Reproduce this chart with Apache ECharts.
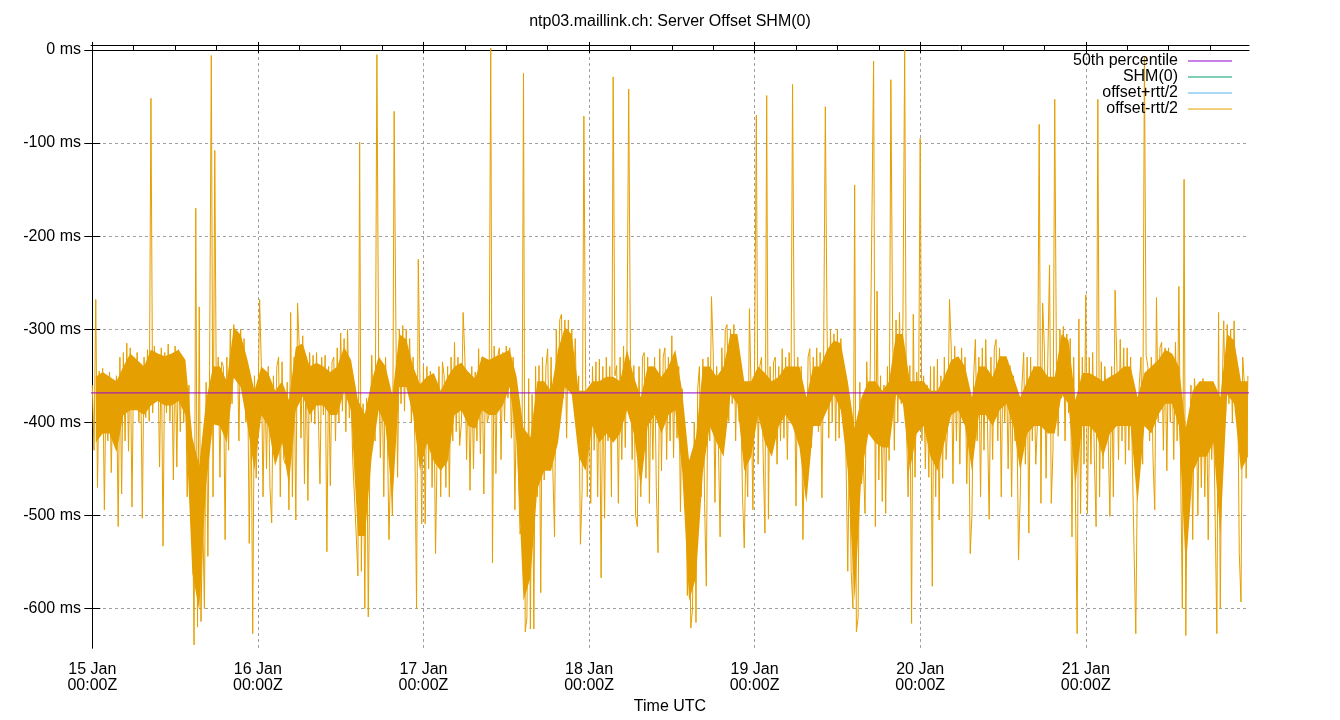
<!DOCTYPE html>
<html>
<head>
<meta charset="utf-8">
<script src="https://cdn.jsdelivr.net/npm/echarts@6.0.0/dist/echarts.min.js"></script>
<style>
html,body{margin:0;padding:0;background:#fff;}
#chart{width:1340px;height:720px;}
</style>
</head>
<body>
<div id="chart"></div>
<script>
// Time is in hours since 15 Jan 00:00Z; one sample every STEP hours
const STEP = 0.25;
const dayLabels = ['15 Jan\n00:00Z','16 Jan\n00:00Z','17 Jan\n00:00Z','18 Jan\n00:00Z','19 Jan\n00:00Z','20 Jan\n00:00Z','21 Jan\n00:00Z'];
const yTickValues = [-600,-500,-400,-300,-200,-100,0];
const X_MIN = -0.19, X_MAX = 167.66;
const Y_MIN = -642.4, Y_MAX = 5.3;
const median = -368.4;

// offset (ms), 15 Jan .. 21 Jan, 96 samples per day
const d15 = [
-360,-430,-268,-470, -345,-410,-342,-494, -350,-420,-346,-454, -355,-415,-350,-512,
-330,-477,-325,-420, -315,-431,-320,-491, -330,-380,-325,-400, -340,-503,-330,-395,
-322,-399,-52,-390, -318,-374,-330,-448, -320,-533,-325,-390, -316,-399,-330,-462,
-318,-448,-322,-410, -330,-400,-340,-480, -360,-498,-470,-639, -170,-620,-276,-614,
-500,-600,-357,-544, -340,-6,-480,-108, -400,-330,-459,-335, -340,-526,-330,-430,
-300,-380,-295,-350, -305,-420,-300,-360, -310,-400,-339,-530, -360,-627,-350,-460];
const d16 = [
-390,-268,-339,-480, -345,-450,-340,-470, -508,-350,-420,-340, -330,-480,-335,-440,
-445,-357,-494,-282, -480,-330,-505,-272, -320,-417,-307,-466, -330,-484,-325,-400,
-328,-402,-325,-390, -466,-330,-392,-328, -539,-340,-468,-335, -330,-420,-320,-400,
-304,-388,-310,-410, -300,-395,-367,-440, -480,-520,-565,-99, -560,-380,-600,-374,
-609,-430,-328,-400, -420,-5,-330,-438, -340,-480,-330,-400, -526,-445,-500,-66,
-296,-459,-300,-380, -296,-388,-300,-360, -310,-400,-330,-420, -600,-225,-360,-509];
const d17 = [
-339,-509,-340,-450, -345,-470,-360,-541, -420,-340,-480,-335, -350,-470,-340,-480,
-330,-420,-314,-410, -330,-425,-400,-282, -330,-440,-346,-473, -340,-450,-346,-420,
-321,-434,-330,-477, -340,-400,-392,2, -551,-318,-455,-330, -320,-440,-325,-399,
-318,-374,-320,-417, -330,-494,-367,-450, -520,-508,-25,-625, -610,-353,-622,-370,
-622,-340,-480,-339, -583,-330,-462,-340, -321,-430,-330,-450, -523,-300,-400,-290,
-284,-374,-290,-417, -290,-360,-300,-380, -310,-400,-350,-531, -473,-71,-350,-480];
const d18 = [
-374,-487,-340,-430, -335,-480,-332,-567, -340,-503,-330,-420, -340,-480,-29,-350,
-339,-487,-330,-440, -318,-427,-320,-42, -330,-440,-339,-500, -512,-340,-480,-330,
-325,-460,-330,-487, -340,-440,-330,-470, -540,-321,-452,-330, -320,-440,-330,-420,
-307,-438,-330,-417, -340,-496,-364,-459, -445,-586,-460,-621, -600,-400,-615,-364,
-340,-480,-332,-487, -576,-330,-420,-265, -325,-486,-340,-424, -523,-320,-400,-300,
-295,-399,-300,-380, -295,-420,-310,-399, -374,-480,-535,-420, -480,-278,-370,-494];
const d19 = [
-330,-70,-445,-340, -330,-440,-519,-49, -504,-340,-430,-335, -330,-445,-340,-420,
-321,-417,-330,-440, -325,-400,-37,-330, -490,-330,-417,-340, -526,-410,-480,-330,
-321,-427,-330,-400, -320,-410,-325,-481, -330,-61,-300,-417, -300,-400,-305,-420,
-300,-417,-310,-390, -346,-440,-560,-420, -560,-600,-145,-625, -610,-357,-466,-440,
-498,-335,-410,-350, -350,-12,-512,-259, -462,-350,-485,-360, -498,-340,-441,-32,
-300,-430,-290,-400, -282,-380,-290,0, -400,-480,-339,-616, -284,-459,-346,-400];
const d20 = [
-95,-420,-350,-450, -360,-459,-340,-576, -340,-480,-332,-505, -350,-460,-330,-440,
-400,-268,-320,-466, -318,-420,-330,-445, -320,-400,-330,-466, -374,-541,-500,-350,
-311,-420,-330,-480, -320,-430,-311,-400, -504,-330,-440,-320, -311,-420,-320,-480,
-330,-400,-340,-450, -339,-480,-350,-420, -380,-548,-480,-360, -325,-445,-330,-519,
-330,-420,-340,-445, -400,-80,-487,-272, -321,-460,-330,-231, -487,-430,-53,-340,
-415,-300,-374,-297, -420,-305,-390,-310, -523,-330,-480,-627, -289,-498,-330,-445];
const d21 = [
-263,-498,-330,-445, -325,-440,-512,-53, -480,-335,-450,-340, -340,-420,-501,-340,
-480,-258,-335,-440, -311,-420,-320,-445, -320,-430,-330,-440, -537,-627,-445,-360,
-330,-445,-8,-328, -340,-420,-330,-440, -494,-266,-400,-320, -314,-430,-320,-452,
-320,-400,-330,-440, -314,-420,-254,-450, -600,-139,-629,-410, -450,-360,-526,-353,
-380,-500,-360,-470, -353,-480,-370,-526, -360,-440,-380,-500, -627,-282,-600,-374,
-291,-399,-295,-380, -300,-400,-291,-390, -342,-540,-593,-330, -360,-460,-350];

// dense core of the offset trace: upper / lower edge per hour (24 per day)
const coreHi = [
 [-351,-346,-351,-356,-340,-326,-333,-340,-322,-326,-329,-326,-322,-333,-416,-446,-376,-340,-340,-356,-298,-306,-333,-366],
 [-340,-347,-366,-356,-376,-319,-315,-340,-336,-340,-346,-340,-319,-333,-376,-391,-356,-329,-340,-371,-305,-311,-340,-359],
 [-351,-347,-366,-351,-340,-336,-346,-353,-329,-333,-329,-326,-322,-351,-406,-416,-356,-356,-366,-322,-298,-306,-366,-366],
 [-356,-356,-351,-351,-356,-322,-351,-373,-340,-340,-351,-340,-322,-366,-441,-416,-340,-340,-351,-340,-305,-305,-356,-356],
 [-340,-347,-356,-351,-340,-340,-340,-373,-340,-340,-322,-312,-315,-356,-406,-373,-356,-356,-366,-356,-305,-305,-356,-356],
 [-356,-366,-366,-351,-333,-329,-340,-373,-340,-340,-351,-329,-329,-351,-373,-356,-340,-340,-351,-351,-305,-312,-376,-347],
 [-347,-351,-356,-351,-347,-340,-340,-373,-347,-340,-333,-322,-326,-340,-406,-366,-356,-356,-356,-373,-305,-312,-356,-356]];
const coreLo = [
 [-422,-412,-412,-432,-392,-387,-387,-392,-382,-377,-382,-382,-377,-392,-562,-602,-467,-402,-404,-422,-352,-362,-404,-452],
 [-392,-404,-447,-422,-467,-387,-372,-392,-382,-382,-392,-392,-367,-387,-522,-522,-437,-387,-404,-487,-362,-362,-392,-452],
 [-422,-442,-452,-442,-392,-387,-404,-407,-387,-392,-392,-382,-362,-422,-592,-567,-472,-452,-452,-422,-362,-370,-437,-452],
 [-404,-422,-412,-422,-412,-387,-412,-470,-404,-392,-412,-392,-387,-452,-592,-567,-454,-404,-422,-437,-370,-380,-452,-437],
 [-392,-422,-437,-404,-392,-404,-427,-487,-404,-404,-387,-370,-387,-452,-592,-454,-412,-422,-427,-427,-370,-380,-452,-412],
 [-404,-437,-452,-422,-392,-387,-404,-452,-392,-392,-404,-387,-380,-404,-452,-412,-404,-404,-412,-412,-370,-380,-467,-404],
 [-404,-412,-437,-412,-404,-404,-404,-487,-404,-412,-392,-380,-380,-404,-557,-454,-437,-437,-422,-522,-370,-380,-452,-437]];

const days = [d15, d16, d17, d18, d19, d20, d21];
const offsetData = [];
days.forEach((arr, d) => arr.forEach((v, i) => offsetData.push([d * 24 + i * STEP, v])));
const coreData = [];
coreHi.forEach((arr, d) => arr.forEach((v, h) => coreData.push([d * 24 + h + 0.5, coreLo[d][h], v])));
const medianData = [[X_MIN, median], [X_MAX, median]];

const dayTicks = dayLabels.map((_, i) => i * 24);
const minorTicks = [];
for (let h = 6; h < X_MAX; h += 6) if (h % 24 !== 0) minorTicks.push(h);

const ORANGE = '#E69F00';
const FONT = 'Liberation Sans, Arial, sans-serif';
const gridLine = {show: true, lineStyle: {color: '#a0a0a0', width: 1, type: [3, 3]}};
const blackLine = {show: true, lineStyle: {color: '#000', width: 1}};

function xAxisDef(pos, major, withLabels) {
  return {
    type: 'value', position: pos, min: X_MIN, max: X_MAX,
    axisLine: major ? blackLine : {show: false},
    axisTick: {show: true, inside: true, length: major ? 8 : 4, customValues: major ? dayTicks : minorTicks,
               lineStyle: {color: '#000', width: 1}},
    axisLabel: withLabels ? {show: true, customValues: dayTicks, margin: 14, color: '#000', fontSize: 16,
               fontFamily: FONT, lineHeight: 16,
               formatter: v => dayLabels[Math.round(v / 24)]} : {show: false},
    splitLine: (major && withLabels) ? gridLine : {show: false},
    name: withLabels ? 'Time UTC' : '', nameLocation: 'middle', nameGap: 51,
    nameTextStyle: {color: '#000', fontSize: 16, fontFamily: FONT}
  };
}
function yAxisDef(pos, withLabels) {
  return {
    type: 'value', position: pos, min: Y_MIN, max: Y_MAX,
    axisLine: blackLine,
    axisTick: {show: true, inside: true, length: 8, customValues: yTickValues, lineStyle: {color: '#000', width: 1}},
    axisLabel: withLabels ? {show: true, customValues: yTickValues, margin: 10, color: '#000', fontSize: 16,
               fontFamily: FONT, formatter: v => v + ' ms'} : {show: false},
    splitLine: withLabels ? gridLine : {show: false}
  };
}

const chart = echarts.init(document.getElementById('chart'), null, {renderer: 'canvas'});
chart.setOption({
  animation: false,
  backgroundColor: '#fff',
  title: {text: 'ntp03.maillink.ch: Server Offset SHM(0)', left: 'center', top: 14, padding: 0,
          textStyle: {color: '#000', fontSize: 16, fontWeight: 'normal', fontFamily: FONT}},
  legend: {
    data: ['50th percentile', 'SHM(0)', 'offset+rtt/2', 'offset-rtt/2'],
    orient: 'vertical', align: 'right', right: 108, top: 53, padding: 0,
    icon: 'rect', itemWidth: 44, itemHeight: 1, itemGap: 0, selectedMode: false,
    textStyle: {color: '#000', fontSize: 16, lineHeight: 15, fontFamily: FONT, padding: [0, 5, 0, 0]}
  },
  grid: {left: 91, right: 91, top: 45, bottom: 64, containLabel: false},
  xAxis: [xAxisDef('bottom', true, true), xAxisDef('bottom', false, false),
          xAxisDef('top', true, false), xAxisDef('top', false, false)],
  yAxis: [yAxisDef('left', true), yAxisDef('right', false)],
  series: [
    {name: 'SHM(0)', type: 'line', data: offsetData, symbol: 'none', color: '#009E73',
     lineStyle: {width: 1, opacity: 0}, silent: true},
    {name: 'offset+rtt/2', type: 'line', data: offsetData, symbol: 'none', color: '#56B4E9',
     lineStyle: {width: 1, opacity: 0}, silent: true},
    {name: 'offset-rtt/2 core', type: 'custom', data: coreData, silent: true, clip: true,
     encode: {x: 0, y: [1, 2]},
     renderItem: function (params, api) {
       if (params.dataIndex !== 0) return null;
       const pts = [];
       coreData.forEach(p => pts.push(api.coord([p[0], p[2]])));
       for (let i = coreData.length - 1; i >= 0; i--) pts.push(api.coord([coreData[i][0], coreData[i][1]]));
       return {type: 'polygon', shape: {points: pts}, style: {fill: ORANGE, stroke: null}};
     }},
    {name: 'offset-rtt/2', type: 'line', data: offsetData, symbol: 'none', color: ORANGE,
     lineStyle: {width: 1}, silent: true},
    {name: '50th percentile', type: 'line', data: medianData, symbol: 'none', color: '#9400D3',
     lineStyle: {width: 1}, silent: true}
  ]
});
</script>
</body>
</html>
